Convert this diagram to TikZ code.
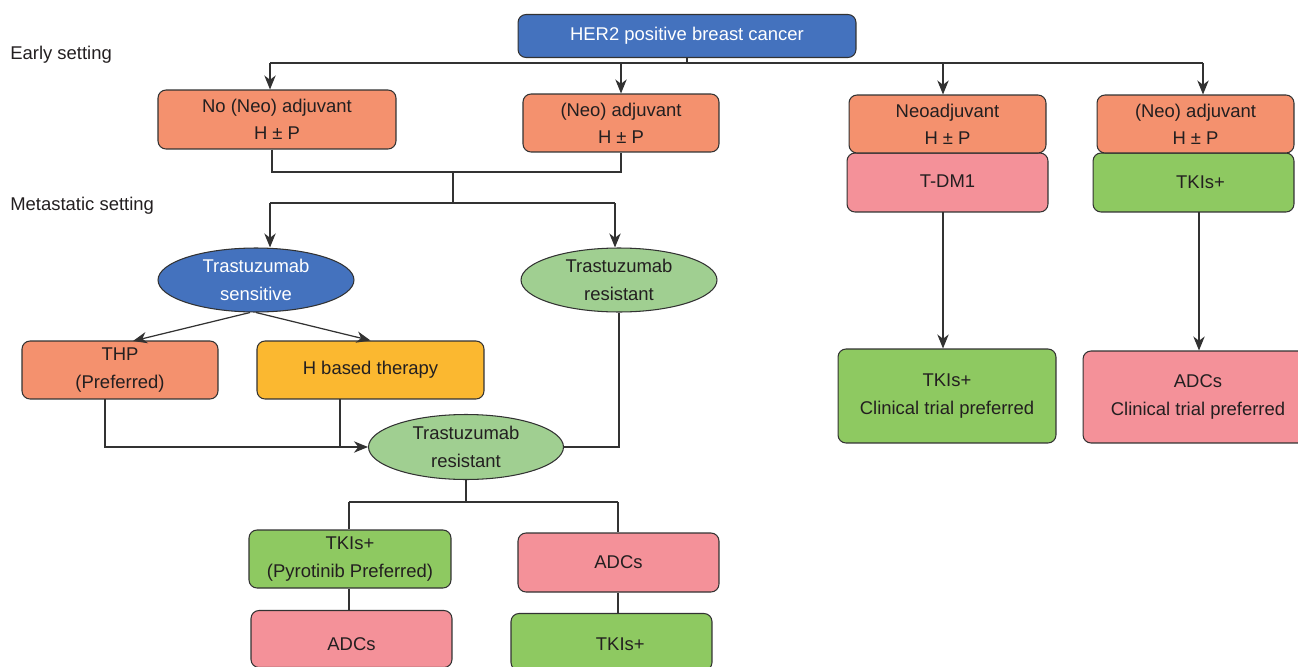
\documentclass[tikz,border=0pt]{standalone}
\usepackage{fontspec}
\setmainfont{Liberation Sans}
\usetikzlibrary{shapes.geometric,arrows.meta}
\definecolor{cblue}{RGB}{68,114,190}
\definecolor{corange}{RGB}{244,145,110}
\definecolor{cyellow}{RGB}{251,184,48}
\definecolor{cgreen}{RGB}{142,201,97}
\definecolor{clgreen}{RGB}{160,207,145}
\definecolor{cpink}{RGB}{244,145,153}
\definecolor{cline}{RGB}{50,50,50}
\definecolor{ctext}{RGB}{35,31,32}
\begin{document}
\begin{tikzpicture}[x=0.02cm,y=-0.02cm,
  font=\fontsize{10.5}{15.5}\selectfont,
  box/.style={draw=cline,line width=0.6pt,rounded corners=0.16cm,align=center,inner sep=0pt,text=ctext},
  ell/.style={draw=cline,line width=0.6pt,ellipse,align=center,inner sep=0pt,text=ctext,minimum width=3.92cm,minimum height=1.28cm},
  conn/.style={draw=cline,line width=0.7pt},
  arr/.style={conn,-{Stealth[length=8pt,width=6.5pt,inset=2.5pt]}},
  lbl/.style={anchor=west,inner sep=0pt,text=ctext}]
\useasboundingbox (0,0) rectangle (1298,666);

% labels
\node[lbl] (early) at (10,55) {Early setting};
\node[lbl] (meta) at (10,206) {Metastatic setting};

% top
\node[box,fill=cblue,text=white,minimum width=6.76cm,minimum height=0.86cm] (her) at (687,36) {HER2 positive breast cancer};

\node[box,fill=corange,minimum width=4.76cm,minimum height=1.18cm] (noA) at (277,119.5) {No (Neo) adjuvant\\H ± P};
\node[box,fill=corange,minimum width=3.92cm,minimum height=1.16cm] (neoB) at (621,123) {(Neo) adjuvant\\H ± P};

\node[box,fill=cpink,minimum width=4.02cm,minimum height=1.18cm] (tdm) at (947.5,182.5) {\raisebox{1pt}[\height][\depth]{T-DM1}};
\node[box,fill=corange,minimum width=3.94cm,minimum height=1.16cm] (neoC) at (947.5,124) {Neoadjuvant\\H ± P};
\node[box,fill=cgreen,minimum width=4.02cm,minimum height=1.18cm] (tkR) at (1193.5,182.5) {\hspace{8pt}TKIs+};
\node[box,fill=corange,minimum width=3.94cm,minimum height=1.16cm] (neoD) at (1195.5,124) {(Neo) adjuvant\\H ± P};

\node[box,fill=cgreen,minimum width=4.36cm,minimum height=1.88cm] (tkC) at (947,396) {TKIs+\\Clinical trial preferred};
\node[box,fill=cpink,minimum width=4.6cm,minimum height=1.84cm] (adC) at (1198,397) {ADCs\\Clinical trial preferred};

% metastatic
\node[ell,fill=cblue,text=white] (sens) at (256,280) {Trastuzumab\\sensitive};
\node[ell,fill=clgreen] (resR) at (619,280) {Trastuzumab\\resistant};
\node[box,fill=corange,minimum width=3.92cm,minimum height=1.16cm] (thp) at (120,370) {THP\\(Preferred)};
\node[box,fill=cyellow,minimum width=4.54cm,minimum height=1.16cm] (hb) at (370.5,370) {H based therapy};
\node[ell,fill=clgreen,minimum width=3.9cm,minimum height=1.3cm] (resL) at (466,447) {Trastuzumab\\resistant};

\node[box,fill=cgreen,minimum width=4.04cm,minimum height=1.16cm] (pyro) at (350,559) {TKIs+\\(Pyrotinib Preferred)};
\node[box,fill=cpink,minimum width=4.02cm,minimum height=1.18cm] (adM) at (618.5,562.5) {ADCs};
\node[box,fill=cpink,minimum width=4.02cm,minimum height=1.14cm] (adB) at (351.5,639) {\raisebox{-3pt}[\height][\depth]{ADCs}};
\node[box,fill=cgreen,minimum width=4.02cm,minimum height=1.14cm] (tkB) at (611.5,642) {\hspace{10pt}\raisebox{-1pt}[\height][\depth]{TKIs+}};

% coordinates
\coordinate (c1) at (270,63);
\coordinate (c2) at (621,63);
\coordinate (c3) at (943,63);
\coordinate (c4) at (1203,63);
\coordinate (j1) at (272,172);
\coordinate (j2) at (621,172);
\coordinate (j0) at (453,172);
\coordinate (m0) at (453,203);
\coordinate (m1) at (270,203);
\coordinate (m2) at (615,203);
\coordinate (tp) at (133,341);
\coordinate (h1) at (105,399);
\coordinate (h2) at (340,399);
\coordinate (b0) at (466,502);
\coordinate (b1) at (349,502);
\coordinate (b2) at (618,502);
\coordinate (r1) at (943,212);
\coordinate (r2) at (1199,212);

% top connectors
\draw[conn] (her.south) -- (her.south |- c1);
\draw[conn] (c1) -- (c4);
\draw[arr] (c1) -- (c1 |- noA.north);
\draw[arr] (c2) -- (c2 |- neoB.north);
\draw[arr] (c3) -- (c3 |- neoC.north);
\draw[arr] (c4) -- (c4 |- neoD.north);

% early to metastatic
\draw[conn] (j1 |- noA.south) -- (j1) -- (j2) -- (j2 |- neoB.south);
\draw[conn] (j0) -- (m0);
\draw[conn] (m1) -- (m2);
\draw[arr] (m1) -- (m1 |- sens.north);
\draw[arr] (m2) -- (m2 |- resR.north);

% sensitive branch
\draw[arr] ([xshift=-0.12cm]sens.south) -- (tp);
\draw[arr] (sens.south) -- (hb.north);
\draw[arr] (h1) |- (resL.west);
\draw[conn] (h2) -- (h2 |- resL.west);
\draw[conn] (resR.south) |- (resL.east);

% lower
\draw[conn] (resL.south) -- (b0);
\draw[conn] (b1) -- (b2);
\draw[conn] (b1) -- (b1 |- pyro.north);
\draw[conn] (b2) -- (b2 |- adM.north);
\draw[conn] (b1 |- pyro.south) -- (b1 |- adB.north);
\draw[conn] (b2 |- adM.south) -- (b2 |- tkB.north);

% right columns
\draw[arr] (r1) -- (r1 |- tkC.north);
\draw[arr] (r2) -- (r2 |- adC.north);
\end{tikzpicture}
\end{document}
